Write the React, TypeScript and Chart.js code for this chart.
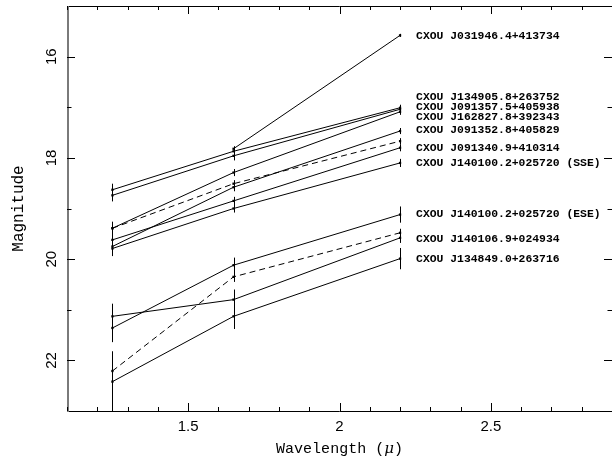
import { useEffect, useRef } from "react";
import { Chart, registerables } from "chart.js";

Chart.register(...registerables);

// J, H and K band central wavelengths (micron)
const wavelengths = [1.25, 1.65, 2.2];

// Magnitudes at J, H, K (null where there is no measurement)
const magJ031946 = [null, 17.82, 15.58];
const magJ134905 = [18.63, 17.87, 17.01];
const magJ091357 = [18.74, 17.96, 17.04];
const magJ162827 = [19.39, 18.29, 17.09];
const magJ091352 = [19.75, 18.58, 17.47];
const magJ091340 = [19.62, 18.85, 17.8];
const magJ091340Alt = [19.39, 18.51, 17.67];
const magJ140100S = [19.79, 19.0, 18.1];
const magJ140100E = [21.36, 20.12, 19.12];
const magJ140106 = [21.13, 20.8, 19.58];
const magJ140106Alt = [22.21, 20.35, 19.48];
const magJ134849 = [22.42, 21.13, 19.99];

// One-sigma errors at J, H, K
const errJ031946 = [0, 0.05, 0.03];
const errJ134905 = [0.12, 0.09, 0.06];
const errJ091357 = [0.12, 0.09, 0.06];
const errJ162827 = [0.13, 0.07, 0.06];
const errJ091352 = [0.14, 0.08, 0.06];
const errJ091340 = [0.14, 0.08, 0.07];
const errJ091340Alt = [0.12, 0.07, 0.06];
const errJ140100S = [0.15, 0.08, 0.08];
const errJ140100E = [0.28, 0.15, 0.16];
const errJ140106 = [0.25, 0.2, 0.1];
const errJ140106Alt = [0.35, 0.1, 0.08];
const errJ134849 = [0.6, 0.25, 0.21];

// Source names and the magnitude at which each name is written
const sourceNames = [
  "CXOU J031946.4+413734",
  "CXOU J134905.8+263752",
  "CXOU J091357.5+405938",
  "CXOU J162827.8+392343",
  "CXOU J091352.8+405829",
  "CXOU J091340.9+410314",
  "CXOU J140100.2+025720 (SSE)",
  "CXOU J140100.2+025720 (ESE)",
  "CXOU J140106.9+024934",
  "CXOU J134849.0+263716",
];
const nameMags = [15.58, 16.79, 16.99, 17.19, 17.45, 17.8, 18.1, 19.11, 19.59, 19.99];

// Axis ticks
const xMajorTicks = [1.5, 2, 2.5];
const xTickLabels = ["1.5", "2", "2.5"];
const yMajorTicks = [16, 18, 20, 22];
const yTickLabels = ["16", "18", "20", "22"];

const X_MIN = 1.1;
const X_MAX = 2.9;
const Y_MIN = 15;
const Y_MAX = 23;

const series = [
  { mags: magJ031946, errs: errJ031946, dashed: false },
  { mags: magJ134905, errs: errJ134905, dashed: false },
  { mags: magJ091357, errs: errJ091357, dashed: false },
  { mags: magJ162827, errs: errJ162827, dashed: false },
  { mags: magJ091352, errs: errJ091352, dashed: false },
  { mags: magJ091340, errs: errJ091340, dashed: false },
  { mags: magJ091340Alt, errs: errJ091340Alt, dashed: true },
  { mags: magJ140100S, errs: errJ140100S, dashed: false },
  { mags: magJ140100E, errs: errJ140100E, dashed: false },
  { mags: magJ140106, errs: errJ140106, dashed: false },
  { mags: magJ140106Alt, errs: errJ140106Alt, dashed: true },
  { mags: magJ134849, errs: errJ134849, dashed: false },
];

const CANVAS_W = 616;
const CANVAS_H = 461;

const framePlugin = {
  id: "frame",
  afterDatasetsDraw(chart: any) {
    const { ctx, chartArea: a, scales } = chart;
    const xs = scales.x;
    const ys = scales.y;
    ctx.save();

    // error bars
    ctx.save();
    ctx.beginPath();
    ctx.rect(a.left, a.top, a.right - a.left, a.bottom - a.top);
    ctx.clip();
    ctx.strokeStyle = "#000";
    ctx.lineWidth = 1;
    series.forEach((s) => {
      s.mags.forEach((m, i) => {
        if (m === null) return;
        const e = s.errs[i];
        if (!e) return;
        const px = Math.round(xs.getPixelForValue(wavelengths[i])) + 0.5;
        ctx.beginPath();
        ctx.moveTo(px, ys.getPixelForValue(m - e));
        ctx.lineTo(px, ys.getPixelForValue(m + e));
        ctx.stroke();
      });
    });
    ctx.restore();

    // frame
    ctx.strokeStyle = "#000";
    ctx.lineWidth = 1;
    ctx.beginPath();
    ctx.moveTo(a.left, Math.round(a.top) + 0.5);
    ctx.lineTo(a.right, Math.round(a.top) + 0.5);
    ctx.moveTo(a.left, Math.round(a.bottom) + 0.5);
    ctx.lineTo(a.right, Math.round(a.bottom) + 0.5);
    ctx.stroke();
    ctx.strokeStyle = "#7a7a7a";
    ctx.lineWidth = 2;
    ctx.beginPath();
    ctx.moveTo(a.left + 1, a.top);
    ctx.lineTo(a.left + 1, a.bottom + 1);
    ctx.stroke();

    // x ticks (bottom and top, pointing inward)
    ctx.strokeStyle = "#000";
    ctx.lineWidth = 1;
    ctx.beginPath();
    for (let k = Math.ceil(X_MIN * 10); k <= Math.floor(X_MAX * 10); k++) {
      const v = k / 10;
      const major = xMajorTicks.some((t) => Math.abs(t - v) < 1e-6);
      const len = major ? 8 : 4;
      const px = Math.round(xs.getPixelForValue(v)) + 0.5;
      ctx.moveTo(px, a.bottom);
      ctx.lineTo(px, a.bottom - len);
      ctx.moveTo(px, a.top);
      ctx.lineTo(px, a.top + len);
    }
    // y ticks (left and right, pointing inward)
    for (let v = Y_MIN + 1; v < Y_MAX; v++) {
      const major = yMajorTicks.includes(v);
      const len = major ? 8 : 4.5;
      const py = Math.round(ys.getPixelForValue(v)) + 0.5;
      ctx.moveTo(a.left, py);
      ctx.lineTo(a.left + len, py);
      ctx.moveTo(a.right, py);
      ctx.lineTo(a.right - len, py);
    }
    ctx.stroke();

    // tick labels
    ctx.fillStyle = "#000";
    ctx.font = "15px 'Liberation Sans', sans-serif";
    ctx.textAlign = "center";
    ctx.textBaseline = "middle";
    xMajorTicks.forEach((v, i) => {
      ctx.fillText(xTickLabels[i], xs.getPixelForValue(v), a.bottom + 16);
    });
    yMajorTicks.forEach((v, i) => {
      ctx.save();
      ctx.translate(a.left - 15, ys.getPixelForValue(v));
      ctx.rotate(-Math.PI / 2);
      ctx.fillText(yTickLabels[i], 0, 0);
      ctx.restore();
    });

    // axis titles
    ctx.font = "15px 'Liberation Mono', monospace";
    const t1 = "Wavelength (";
    const t2 = "\u03bc";
    const t3 = ")";
    const w1 = ctx.measureText(t1).width;
    ctx.font = "italic 15px 'DejaVu Serif', serif";
    const w2 = ctx.measureText(t2).width;
    ctx.font = "15px 'Liberation Mono', monospace";
    const w3 = ctx.measureText(t3).width;
    const cx = (a.left + a.right) / 2;
    let tx = cx - (w1 + w2 + w3) / 2;
    const ty = a.bottom + 38;
    ctx.textAlign = "left";
    ctx.fillText(t1, tx, ty);
    tx += w1;
    ctx.font = "italic 15px 'DejaVu Serif', serif";
    ctx.fillText(t2, tx, ty);
    tx += w2;
    ctx.font = "15px 'Liberation Mono', monospace";
    ctx.fillText(t3, tx, ty);

    ctx.save();
    ctx.translate(19, (a.top + a.bottom) / 2);
    ctx.rotate(-Math.PI / 2);
    ctx.textAlign = "center";
    ctx.font = "16px 'Liberation Mono', monospace";
    ctx.fillText("Magnitude", 0, 0);
    ctx.restore();

    // source names beside the K-band points
    ctx.font = "bold 11.4px 'Liberation Mono', monospace";
    ctx.textAlign = "left";
    const nx = xs.getPixelForValue(wavelengths[2]) + 16;
    sourceNames.forEach((name, i) => {
      ctx.fillText(name, nx, ys.getPixelForValue(nameMags[i]) + 0.5);
    });

    ctx.restore();
  },
};

export default function App() {
  const ref = useRef<HTMLCanvasElement>(null);

  useEffect(() => {
    const canvas = ref.current;
    if (!canvas) return;
    const chart = new Chart(canvas, {
      type: "line",
      data: {
        datasets: series.map((s) => ({
          data: s.mags.map((m, i) => ({ x: wavelengths[i], y: m })),
          borderColor: "#000",
          backgroundColor: "#000",
          borderWidth: 1,
          borderDash: s.dashed ? [6, 4] : [],
          pointStyle: "rect",
          pointRadius: 1.6,
          pointBorderWidth: 0,
          pointBackgroundColor: "#000",
          tension: 0,
          spanGaps: false,
        })),
      },
      options: {
        animation: false,
        responsive: false,
        devicePixelRatio: 1,
        layout: {
          padding: { left: 67, top: 6, right: CANVAS_W - 614, bottom: CANVAS_H - 411 },
        },
        plugins: {
          legend: { display: false },
          tooltip: { enabled: false },
        },
        scales: {
          x: { type: "linear", min: X_MIN, max: X_MAX, display: false },
          y: { type: "linear", min: Y_MIN, max: Y_MAX, reverse: true, display: false },
        },
      },
      plugins: [framePlugin],
    });
    return () => chart.destroy();
  }, []);

  return (
    <div
      style={{
        position: "fixed",
        left: 0,
        top: 0,
        width: 612,
        height: 461,
        overflow: "hidden",
        background: "#fff",
      }}
    >
      <canvas
        ref={ref}
        width={CANVAS_W}
        height={CANVAS_H}
        style={{ display: "block", width: CANVAS_W, height: CANVAS_H }}
      />
    </div>
  );
}
